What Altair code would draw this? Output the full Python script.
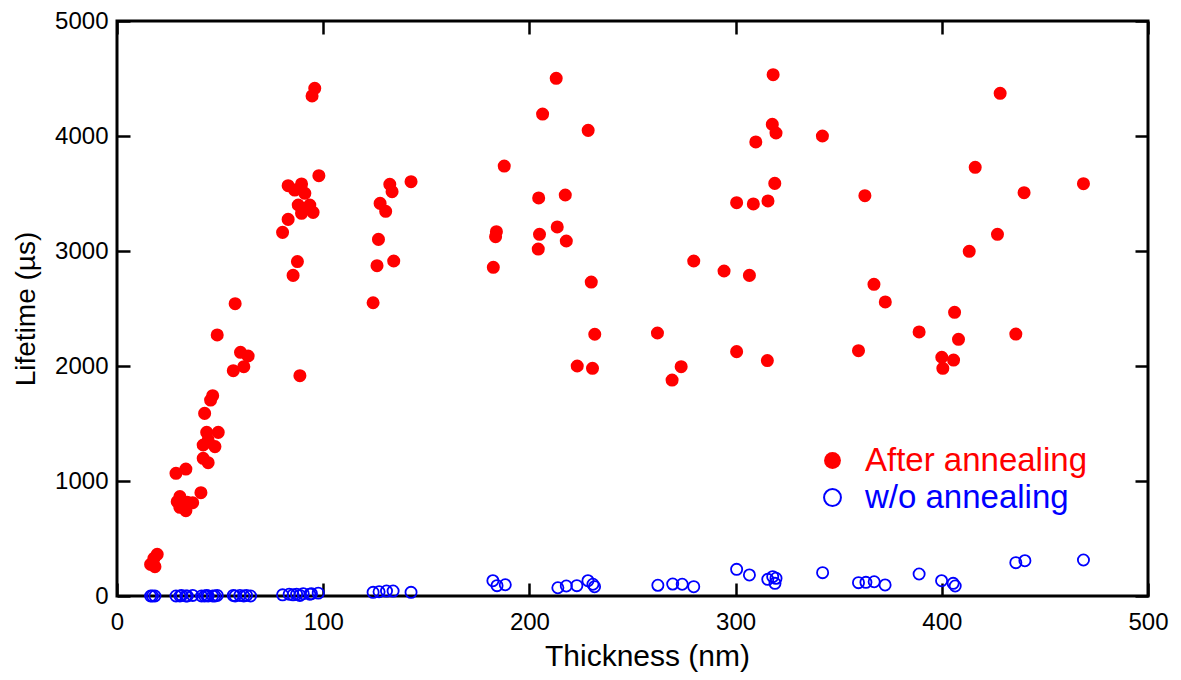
import altair as alt
import pandas as pd

# After annealing (filled red)
red_t = [16.3, 18.4, 17.9, 19.5, 28.6, 33.4, 29.2, 30.5, 30.5, 34.1, 36.7, 33.4, 40.7,
         41.8, 44.2, 41.8, 47.5, 44.2, 43.5, 49.1, 42.5, 45.4, 46.4,
         48.6, 56.4, 59.9, 63.6, 61.5, 57.3,
         80.3, 83.0, 85.4, 87.5, 88.7, 87.9, 89.5, 93.5, 95.1, 91.1, 86.2, 83.0, 89.5, 97.9, 94.6, 95.9,
         124.2, 126.1, 126.8, 127.6, 130.3, 132.3, 133.4, 134.2, 142.6,
         182.5, 183.6, 184.0, 187.8, 204.3, 204.5, 204.9, 206.4, 213.0, 213.5, 217.4, 217.9, 223.2, 228.5,
         230.0, 230.6, 231.7,
         262.1, 269.2, 273.6, 279.7, 294.4, 300.5, 300.5, 306.7, 308.6, 309.8, 315.4, 315.7, 317.8, 318.2,
         319.0, 319.6, 342.1, 359.6, 362.7, 367.1, 372.6, 389.0,
         400.0, 400.5, 405.7, 406.2, 408.1, 413.3, 416.2, 427.0, 428.3, 435.9, 439.9, 468.7]
red_L = [275, 255, 328, 362, 1067, 1104, 820, 864, 771, 815, 811, 742, 898,
         1197, 1159, 1313, 1299, 1357, 1423, 1423, 1588, 1704, 1742,
         2270, 1959, 2119, 2087, 1994, 2542,
         3162, 3275, 2788, 2908, 1916, 3400, 3328, 3400, 3336, 3502, 3530, 3568, 3583, 3655, 4348, 4415,
         2550, 2872, 3101, 3414, 3345, 3580, 3516, 2913, 3603,
         2858, 3125, 3168, 3739, 3017, 3461, 3145, 4191, 4502, 3209, 3487, 3087, 2000, 4049,
         2730, 1980, 2276,
         2287, 1878, 1994, 2913, 2826, 3420, 2125, 2788, 3409, 3948, 2047, 3435, 4101, 4533,
         3588, 4026, 4000, 2133, 3481, 2710, 2557, 2296,
         2076, 1980, 2052, 2467, 2232, 2997, 3728, 3145, 4371, 2278, 3507, 3585]

# w/o annealing (open blue)
blue_t = [16.3, 17.2, 18.4, 28.6, 30.5, 31.3, 33.4, 34.1, 36.7,
          41.0, 42.5, 43.5, 44.2, 46.4, 47.5, 48.6,
          56.4, 57.3, 59.6, 61.5, 62.8, 64.8,
          80.3, 83.5, 85.4, 87.1, 88.7, 90.3, 93.5, 94.3, 97.6,
          124.2, 127.1, 130.7, 133.9, 142.6,
          182.3, 184.3, 188.3, 213.8, 217.9, 223.0, 228.4, 230.8, 231.6,
          262.3, 269.5, 274.1, 279.7, 300.5, 306.7,
          315.6, 318.0, 319.6, 319.1, 342.2, 359.6, 363.2, 367.2, 372.5, 389.0,
          399.9, 405.5, 406.5, 435.9, 440.3, 468.7]
blue_L = [0, 0, 0, 0, 0, 5, 0, 0, 5,
          0, 0, 5, 0, 0, 0, 5,
          5, 0, 5, 0, 5, 0,
          10, 15, 10, 15, 5, 20, 15, 20, 25,
          32, 37, 43, 43, 32,
          133, 90, 98, 72, 87, 90, 133, 102, 81,
          93, 104, 102, 81, 232, 183,
          145, 168, 154, 110, 203, 116, 119, 124, 96, 191,
          133, 110, 87, 290, 307, 313]

series_names = ["After annealing", "w/o annealing"]
x_ticks = [0, 100, 200, 300, 400, 500]
y_ticks = [0, 1000, 2000, 3000, 4000, 5000]

red_df = pd.DataFrame({"t": red_t, "L": red_L, "series": series_names[0]})
blue_df = pd.DataFrame({"t": blue_t, "L": blue_L, "series": series_names[1]})

FONT = "Liberation Sans"
TL = 13  # inward tick length

xscale = alt.Scale(domain=[0, 500], nice=False, zero=False)
yscale = alt.Scale(domain=[0, 5000], nice=False, zero=False)

base_axis = dict(grid=False, domain=False, labelFont=FONT, titleFont=FONT,
                 labelColor="black", titleColor="black", titleFontWeight="normal")
tick_axis = dict(grid=False, domain=False, labels=False, title=None, ticks=True,
                 tickColor="black", tickWidth=2.5, tickSize=TL, offset=-TL)

# labelled axes (bottom / left), no ticks
red = alt.Chart(red_df).mark_circle(size=170, opacity=1).encode(
    x=alt.X("t:Q", scale=xscale,
            axis=alt.Axis(values=x_ticks, title="Thickness (nm)", labelFontSize=24,
                          titleFontSize=30, labelPadding=14, titlePadding=7, ticks=False,
                          titleX=530, titleAlign="center",
                          labelFlush=False, format="d", **base_axis)),
    y=alt.Y("L:Q", scale=yscale,
            axis=alt.Axis(values=y_ticks, title="Lifetime (µs)", labelFontSize=24,
                          titleFontSize=28, labelPadding=9, titlePadding=14, ticks=False,
                          labelFlush=False, format="d", **base_axis)),
    color=alt.Color("series:N",
                    scale=alt.Scale(domain=[series_names[0]], range=["#ff0000"]),
                    legend=alt.Legend(title=None, orient="none", legendX=699, legendY=423,
                                      padding=0, labelFont=FONT, labelFontSize=33,
                                      labelColor="#ff0000", symbolSize=285, labelLimit=0,
                                      labelOffset=16, symbolType="circle")),
)

# top / right inward ticks
blue = alt.Chart(blue_df).mark_point(shape="circle", filled=False, size=125,
                                     strokeWidth=1.8, opacity=1).encode(
    x=alt.X("t:Q", scale=xscale, axis=alt.Axis(values=x_ticks, orient="top", **tick_axis)),
    y=alt.Y("L:Q", scale=yscale, axis=alt.Axis(values=y_ticks, orient="right", **tick_axis)),
    stroke=alt.Stroke("series:N",
                      scale=alt.Scale(domain=[series_names[1]], range=["#0000ff"]),
                      legend=alt.Legend(title=None, orient="none", legendX=699, legendY=460,
                                        padding=0, labelFont=FONT, labelFontSize=33,
                                        labelColor="#0000ff", symbolSize=285, labelLimit=0,
                                        symbolStrokeWidth=2, labelOffset=16,
                                        symbolType="circle")),
)

# bottom / left inward ticks (invisible carrier layer)
ticks_bl = alt.Chart(blue_df).mark_circle(opacity=0, size=1).encode(
    x=alt.X("t:Q", scale=xscale, axis=alt.Axis(values=x_ticks, orient="bottom", **tick_axis)),
    y=alt.Y("L:Q", scale=yscale, axis=alt.Axis(values=y_ticks, orient="left", **tick_axis)),
)

chart = alt.layer(red, blue, ticks_bl).resolve_axis(
    x="independent", y="independent"
).resolve_scale(color="independent", stroke="independent").properties(
    width=1031, height=575,
    autosize=alt.AutoSizeParams(type="none"),
    padding={"left": 117, "top": 21, "right": 33, "bottom": 84},
    background="white",
).configure_view(stroke="black", strokeWidth=3)

chart.save("out.html", embed_options={"renderer": "svg", "actions": False})
